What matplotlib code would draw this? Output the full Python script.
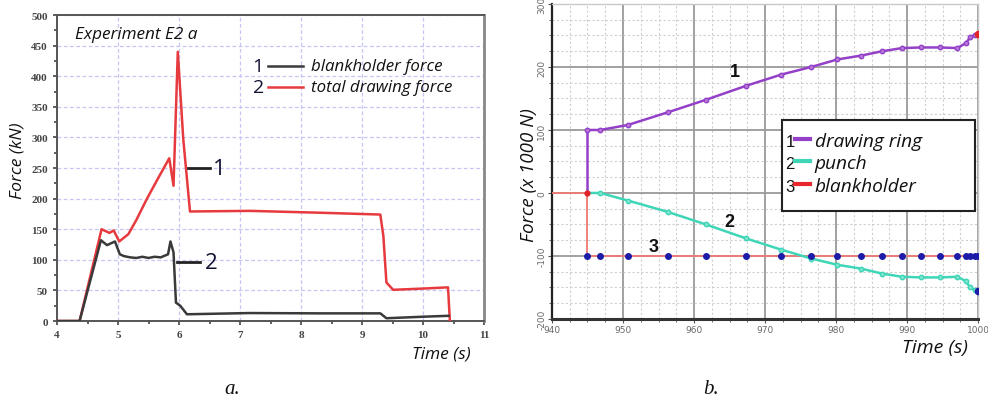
import matplotlib
matplotlib.use("Agg")
import matplotlib.pyplot as plt
from matplotlib.lines import Line2D
from matplotlib.patches import Rectangle
from matplotlib.ticker import MultipleLocator

plt.rcParams["axes.unicode_minus"] = False

# ---------------- data: panel a ----------------
t_total = [4.0, 4.37, 4.73, 4.86, 4.93, 5.02, 5.17, 5.3, 5.47, 5.65, 5.84, 5.91, 5.98,
           6.07, 6.18, 7.16, 8.3, 9.3, 9.35, 9.4, 9.51, 10.0, 10.41, 10.44]
f_total = [0, 0, 150, 144, 148, 130, 142, 165, 199, 232, 266, 221, 440,
           297, 179, 180, 177, 174, 139, 63, 51, 53, 55, 0]

t_bh = [4.0, 4.37, 4.72, 4.82, 4.95, 5.03, 5.1, 5.2, 5.3, 5.4, 5.5, 5.6, 5.7, 5.82,
        5.86, 5.91, 5.95, 6.02, 6.13, 7.16, 8.3, 9.3, 9.4, 10.0, 10.42]
f_bh = [0, 0, 132, 124, 130, 109, 106, 104, 103, 105, 103, 105, 104, 109,
        130, 112, 30, 25, 11, 13, 12.5, 12.5, 4.5, 7, 8.5]

labels_a = ["blankholder force", "total drawing force"]
xticks_a = [4, 5, 6, 7, 8, 9, 10, 11]
yticks_a = [0, 50, 100, 150, 200, 250, 300, 350, 400, 450, 500]

# ---------------- data: panel b ----------------
t_ring = [945, 945, 946.8, 950.7, 956.3, 961.7, 967.3, 972.3, 976.5, 980.2, 983.5,
          986.5, 989.3, 992.0, 994.6, 997.1, 998.3, 998.9, 999.6, 1000]
f_ring = [0, 100, 100, 108, 128, 148, 170, 188, 200, 212, 218,
          225, 230, 231, 231, 230, 238, 247, 251, 252]

t_punch = [945, 946.8, 950.7, 956.3, 961.7, 967.3, 972.3, 976.5, 980.2, 983.5,
           986.5, 989.3, 992.0, 994.6, 997.1, 998.3, 998.9, 999.6, 1000]
f_punch = [0, 0, -12, -30, -50, -72, -90, -104, -114, -120,
           -128, -133, -134, -134, -133, -140, -150, -154, -155]

t_blank = [940, 945, 945, 946.8, 950.7, 956.3, 961.7, 967.3, 972.3, 976.5, 980.2, 983.5,
           986.5, 989.3, 992.0, 994.6, 997.1, 998.3, 998.9, 999.6, 1000]
f_blank = [0, 0, -100, -100, -100, -100, -100, -100, -100, -100, -100, -100,
           -100, -100, -100, -100, -100, -100, -100, -100, -100]

labels_b = ["drawing ring", "punch", "blankholder"]
xticks_b = [940, 950, 960, 970, 980, 990, 1000]
yticks_b = [-200, -100, 0, 100, 200, 300]

# ---------------- styles ----------------
RED = "#e63a3e"
BLK = "#3a3a3a"
PURP = "#9440c8"
CYAN = "#3fd6b8"
SALMON = "#f07a72"
NAVY = "#1c1ca8"
ITAL = dict(family="Open Sans", style="italic")

fig = plt.figure(figsize=(9.88, 4.02), dpi=100)

# ================= panel a =================
ax1 = fig.add_axes([0.0577, 0.199, 0.4322, 0.761])
ax1.plot(t_total, f_total, color=RED, lw=1.8, zorder=3)
ax1.plot(t_bh, f_bh, color=BLK, lw=1.8, zorder=3)
ax1.set_xlim(4, 11)
ax1.set_ylim(0, 500)
ax1.set_xticks(xticks_a)
ax1.set_yticks(yticks_a)
ax1.xaxis.set_minor_locator(MultipleLocator(0.5))
ax1.yaxis.set_minor_locator(MultipleLocator(25))
ax1.grid(True, which="major", color="#c6c6f4", ls=(0, (3, 2)), lw=0.9)
ax1.tick_params(which="both", direction="out", color="#444444", width=1.2)
ax1.tick_params(which="major", length=3)
ax1.tick_params(which="minor", length=2)
for lab in ax1.get_xticklabels() + ax1.get_yticklabels():
    lab.set_family("Liberation Serif")
    lab.set_fontsize(8)
    lab.set_color("#444444")
    lab.set_fontweight("bold")
for s in ax1.spines.values():
    s.set_color("#555555")
    s.set_linewidth(1.4)
ax1.spines["right"].set_color("#888888")
ax1.spines["right"].set_linewidth(2)

ax1.text(0.042, 0.938, "Experiment E2 a", transform=ax1.transAxes, fontsize=12.3,
         va="center", ha="left", color="#111111", **ITAL)
# legend a
for i, (lab, col, yy) in enumerate(zip(labels_a, [BLK, RED], [0.833, 0.765])):
    ax1.text(0.471, yy, str(i + 1), transform=ax1.transAxes, fontsize=14,
             ha="center", va="center", color="#111133", family="Open Sans")
    ax1.add_line(Line2D([0.494, 0.576], [yy, yy], transform=ax1.transAxes,
                        color=col, lw=1.8))
    ax1.text(0.595, yy, lab, transform=ax1.transAxes, fontsize=12.2,
             ha="left", va="center", color="#111111", **ITAL)
# curve labels
ax1.add_line(Line2D([6.15, 6.51], [250, 250], color="#222222", lw=2, zorder=5))
ax1.text(6.56, 250, "1", fontsize=16, ha="left", va="center", color="#111133",
         family="Open Sans", zorder=5)
ax1.add_line(Line2D([5.97, 6.34], [96, 96], color="#222222", lw=2, zorder=5))
ax1.text(6.42, 96, "2", fontsize=16, ha="left", va="center", color="#111133",
         family="Open Sans", zorder=5)

fig.text(0.018, 0.60, "Force (kN)", rotation=90, fontsize=12.5, ha="center",
         va="center", color="#111111", **ITAL)
fig.text(0.447, 0.119, "Time (s)", fontsize=12.5, ha="center", va="center",
         color="#111111", **ITAL)
fig.text(0.235, 0.03, "a.", fontsize=15, ha="center", va="center",
         family="Liberation Serif", style="italic", color="#111111")

# ================= panel b =================
ax2 = fig.add_axes([0.5587, 0.204, 0.4312, 0.7836])
ax2.set_xlim(940, 1000)
ax2.set_ylim(-200, 300)
ax2.set_xticks(xticks_b)
ax2.set_yticks(yticks_b)
ax2.xaxis.set_minor_locator(MultipleLocator(2.5))
ax2.yaxis.set_minor_locator(MultipleLocator(25))
ax2.grid(True, which="major", color="#9a9a9a", lw=1.3)
ax2.grid(True, which="minor", color="#cfcfcf", lw=0.8, ls=(0, (2, 2)))
ax2.set_axisbelow(True)
ax2.tick_params(which="both", direction="out", color="#555555")
ax2.tick_params(which="major", length=3, labelsize=6.5, labelcolor="#6a6a6a", pad=1)
ax2.tick_params(which="minor", length=2)
for lab in ax2.get_yticklabels():
    lab.set_rotation(90)
    lab.set_va("center")
for s in ["top", "right"]:
    ax2.spines[s].set_color("#c8c8c8")
    ax2.spines[s].set_linewidth(1)
ax2.spines["left"].set_color("#222222")
ax2.spines["left"].set_linewidth(1.6)
ax2.spines["bottom"].set_color("#333333")
ax2.spines["bottom"].set_linewidth(2.2)

ax2.plot(t_blank, f_blank, color=SALMON, lw=1.3, zorder=3)
ax2.plot(t_blank[2:], f_blank[2:], ls="none", marker="o", ms=4,
         color=NAVY, zorder=5)
ax2.plot(t_ring, f_ring, color=PURP, lw=1.8, zorder=4,
         marker="o", ms=3.2, markevery=list(range(1, len(t_ring))),
         mfc="#b57ad8", mec=PURP)
ax2.plot(t_punch, f_punch, color=CYAN, lw=1.8, zorder=4,
         marker="o", ms=3.2, markevery=list(range(1, len(t_punch))),
         mfc="#7fe4d0", mec=CYAN)
ax2.plot([t_ring[-1]], [f_ring[-1]], ls="none", marker="o", ms=4.5, color="#e0242a", zorder=6)
ax2.plot([t_punch[-1]], [f_punch[-1]], ls="none", marker="o", ms=4.5, color=NAVY, zorder=6)
ax2.plot([t_blank[1]], [f_blank[1]], ls="none", marker="o", ms=3.5, color="#e0242a", zorder=6)

ax2.text(965.8, 193, "1", fontsize=13, fontweight="bold", ha="center", va="center",
         family="Liberation Sans", color="#111111")
ax2.text(965.0, -46, "2", fontsize=13, fontweight="bold", ha="center", va="center",
         family="Liberation Sans", color="#111111")
ax2.text(954.3, -85, "3", fontsize=13, fontweight="bold", ha="center", va="center",
         family="Liberation Sans", color="#111111")

# legend b
ax2.add_patch(Rectangle((0.540, 0.343), 0.453, 0.289, transform=ax2.transAxes,
                        facecolor="white", edgecolor="#222222", lw=1.5, zorder=7))
for i, (lab, col, yy) in enumerate(zip(labels_b, [PURP, CYAN, "#e8262c"],
                                       [0.565, 0.495, 0.422])):
    ax2.text(0.559, yy, str(i + 1), transform=ax2.transAxes, fontsize=12,
             ha="center", va="center", color="#111111", family="Liberation Sans",
             zorder=8)
    ax2.add_line(Line2D([0.571, 0.606], [yy + 0.005, yy + 0.005], transform=ax2.transAxes,
                        color=col, lw=3, zorder=8))
    ax2.text(0.617, yy, lab, transform=ax2.transAxes, fontsize=13.8,
             ha="left", va="center", color="#111111", zorder=8, **ITAL)

fig.text(0.535, 0.565, "Force (x 1000 N)", rotation=90, fontsize=13.5, ha="center",
         va="center", color="#111111", **ITAL)
fig.text(0.946, 0.134, "Time (s)", fontsize=14, ha="center", va="center",
         color="#111111", **ITAL)
fig.text(0.72, 0.03, "b.", fontsize=15, ha="center", va="center",
         family="Liberation Serif", style="italic", color="#111111")

fig.savefig("out.png", dpi=100)
